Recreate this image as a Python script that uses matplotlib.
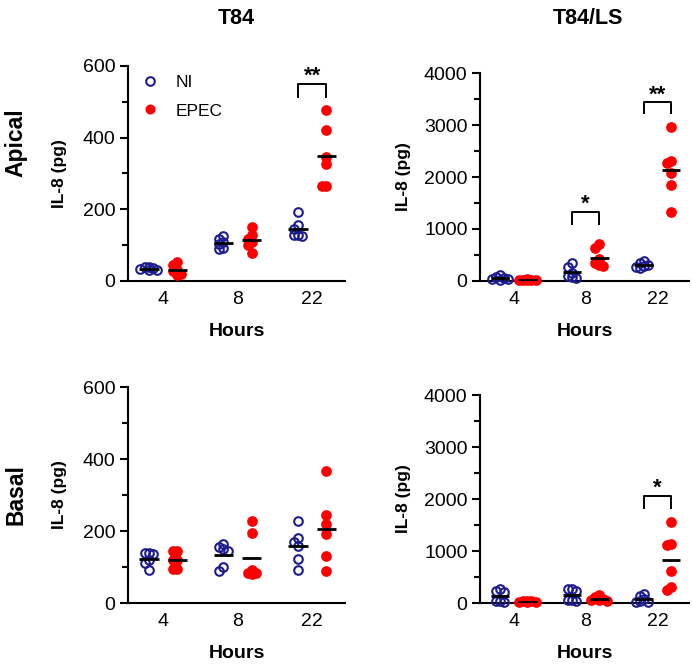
import numpy as np
import matplotlib.pyplot as plt
from matplotlib.lines import Line2D

plt.rcParams['font.family'] = ['Liberation Sans', 'DejaVu Sans']

hours = ["4", "8", "22"]
ni_color = "#1c1c8f"
epec_color = "#ff0000"

# IL-8 (pg), six wells per group
t84_apical_ni = [[40, 38, 35, 33, 31, 30], [125, 118, 108, 102, 92, 90], [192, 155, 145, 127, 125, 127]]
t84_apical_epec = [[53, 44, 30, 28, 19, 18], [151, 128, 118, 110, 100, 78], [477, 421, 345, 326, 265, 265]]
ls_apical_ni = [[110, 80, 60, 40, 30, 20], [340, 270, 160, 90, 70, 60], [380, 340, 300, 280, 260, 250]]
ls_apical_epec = [[30, 28, 25, 25, 22, 20], [710, 640, 430, 350, 300, 280], [2955, 2314, 2276, 2083, 1840, 1320]]
t84_basal_ni = [[140, 138, 135, 120, 110, 92], [165, 155, 150, 145, 100, 90], [228, 180, 170, 157, 121, 92]]
t84_basal_epec = [[145, 145, 119, 119, 94, 94], [228, 194, 92, 82, 82, 80], [367, 244, 219, 191, 131, 89]]
ls_basal_ni = [[260, 240, 210, 40, 30, 20], [270, 260, 230, 60, 50, 40], [170, 140, 80, 40, 20, 20]]
ls_basal_epec = [[40, 35, 30, 25, 20, 20], [160, 120, 80, 60, 50, 40], [1564, 1128, 1115, 609, 308, 244]]

# significance: (group index, bracket top, leg bottom, label)
t84_apical_sig = [(2, 550, 514, "**")]
ls_apical_sig = [(1, 1327, 1096, "*"), (2, 3440, 3230, "**")]
t84_basal_sig = []
ls_basal_sig = [(2, 2058, 1827, "*")]

fig = plt.figure(figsize=(6.92, 6.64), dpi=100)
W, H = 692, 664


def make_ax(left, right, top, bottom):
    return fig.add_axes([left / W, 1 - bottom / H, (right - left) / W, (bottom - top) / H])


def swarm(vals, px_per_unit, diam):
    # small horizontal spread so overlapping points stay visible
    placed = []
    res = np.zeros(len(vals))
    steps = [0, -1, 1, -2, 2]
    for i in np.argsort(vals)[::-1]:
        y = vals[i] * px_per_unit
        best, best_d = 0.0, -1
        for s in steps:
            x = s * diam * 0.5
            d = min([np.hypot(x - px, y - py) for px, py in placed] or [1e9])
            if d >= diam * 0.5:
                best = x
                break
            if d > best_d:
                best, best_d = x, d
        placed.append((best, y))
        res[i] = best
    return res


def draw_panel(ax, ni, epec, ymax, major, minor, sig, ylab_x):
    xpx = 74.5
    box = ax.get_position()
    ypx = box.height * H / ymax
    diam = 8.5
    off = 0.19
    for g in range(len(hours)):
        for vals, dx, col, filled in [(ni[g], -off, ni_color, False), (epec[g], off, epec_color, True)]:
            vals = np.array(vals, dtype=float)
            jit = swarm(vals, ypx, diam) / xpx
            ax.plot(g + dx + jit, vals, 'o', ms=6.2, mec=col,
                    mfc=col if filled else 'none', mew=1.5, clip_on=False, zorder=3, ls='none')
            ax.plot([g + dx - 0.13, g + dx + 0.13], [vals.mean()] * 2, color='black', lw=2, zorder=4,
                    solid_capstyle='butt')
    for g, ytop, yleg, lab in sig:
        ax.plot([g - off, g - off, g + off, g + off], [yleg, ytop, ytop, yleg], color='black', lw=1.4,
                clip_on=False)
        ax.text(g, ytop + ymax * 0.035, lab, ha='center', va='center', fontsize=16, fontweight='bold',
                clip_on=False)
    ax.set_xlim(-0.47, 2.44)
    ax.set_ylim(0, ymax)
    ax.set_xticks(range(len(hours)))
    ax.set_xticklabels(hours)
    ax.set_yticks(np.arange(0, ymax + 1, major))
    ax.set_yticks(np.arange(minor, ymax, major), minor=True)
    for s in ['top', 'right']:
        ax.spines[s].set_visible(False)
    for s in ['left', 'bottom']:
        ax.spines[s].set_linewidth(1.5)
    ax.tick_params(axis='both', which='major', labelsize=14, width=1.5, length=6, pad=3)
    ax.tick_params(axis='y', which='minor', width=1.5, length=4)
    ax.tick_params(axis='x', length=0, pad=7)
    ax.set_ylabel("IL-8 (pg)", fontsize=12.5, fontweight='bold')
    ax.yaxis.set_label_coords(ylab_x, 0.5)
    ax.set_xlabel("Hours", fontsize=14, fontweight='bold', labelpad=11)


ax1 = make_ax(128, 345, 66, 281)
ax2 = make_ax(480, 689, 73, 281)
ax3 = make_ax(128, 345, 387, 603)
ax4 = make_ax(480, 689, 395, 603)

draw_panel(ax1, t84_apical_ni, t84_apical_epec, 600, 200, 100, t84_apical_sig, -0.28)
draw_panel(ax2, ls_apical_ni, ls_apical_epec, 4000, 1000, 500, ls_apical_sig, -0.33)
draw_panel(ax3, t84_basal_ni, t84_basal_epec, 600, 200, 100, t84_basal_sig, -0.28)
draw_panel(ax4, ls_basal_ni, ls_basal_epec, 4000, 1000, 500, ls_basal_sig, -0.33)

handles = [Line2D([], [], marker='o', ls='none', ms=6.2, mec=ni_color, mfc='none', mew=1.5, label='NI'),
           Line2D([], [], marker='o', ls='none', ms=6.2, mec=epec_color, mfc=epec_color, label='EPEC')]
ax1.legend(handles=handles, loc='upper left', bbox_to_anchor=(-0.03, 1.03), frameon=False, fontsize=12.5,
           handletextpad=0.7, labelspacing=0.75, handlelength=1.5)

fig.text(236 / W, 1 - 18 / H, "T84", ha='center', va='center', fontsize=15.5, fontweight='bold')
fig.text(588 / W, 1 - 18 / H, "T84/LS", ha='center', va='center', fontsize=15.5, fontweight='bold')
fig.text(16 / W, 1 - 143 / H, "Apical", ha='center', va='center', rotation=90, fontsize=16.5, fontweight='bold')
fig.text(16 / W, 1 - 495 / H, "Basal", ha='center', va='center', rotation=90, fontsize=16.5, fontweight='bold')

fig.savefig("out.png", dpi=100)
